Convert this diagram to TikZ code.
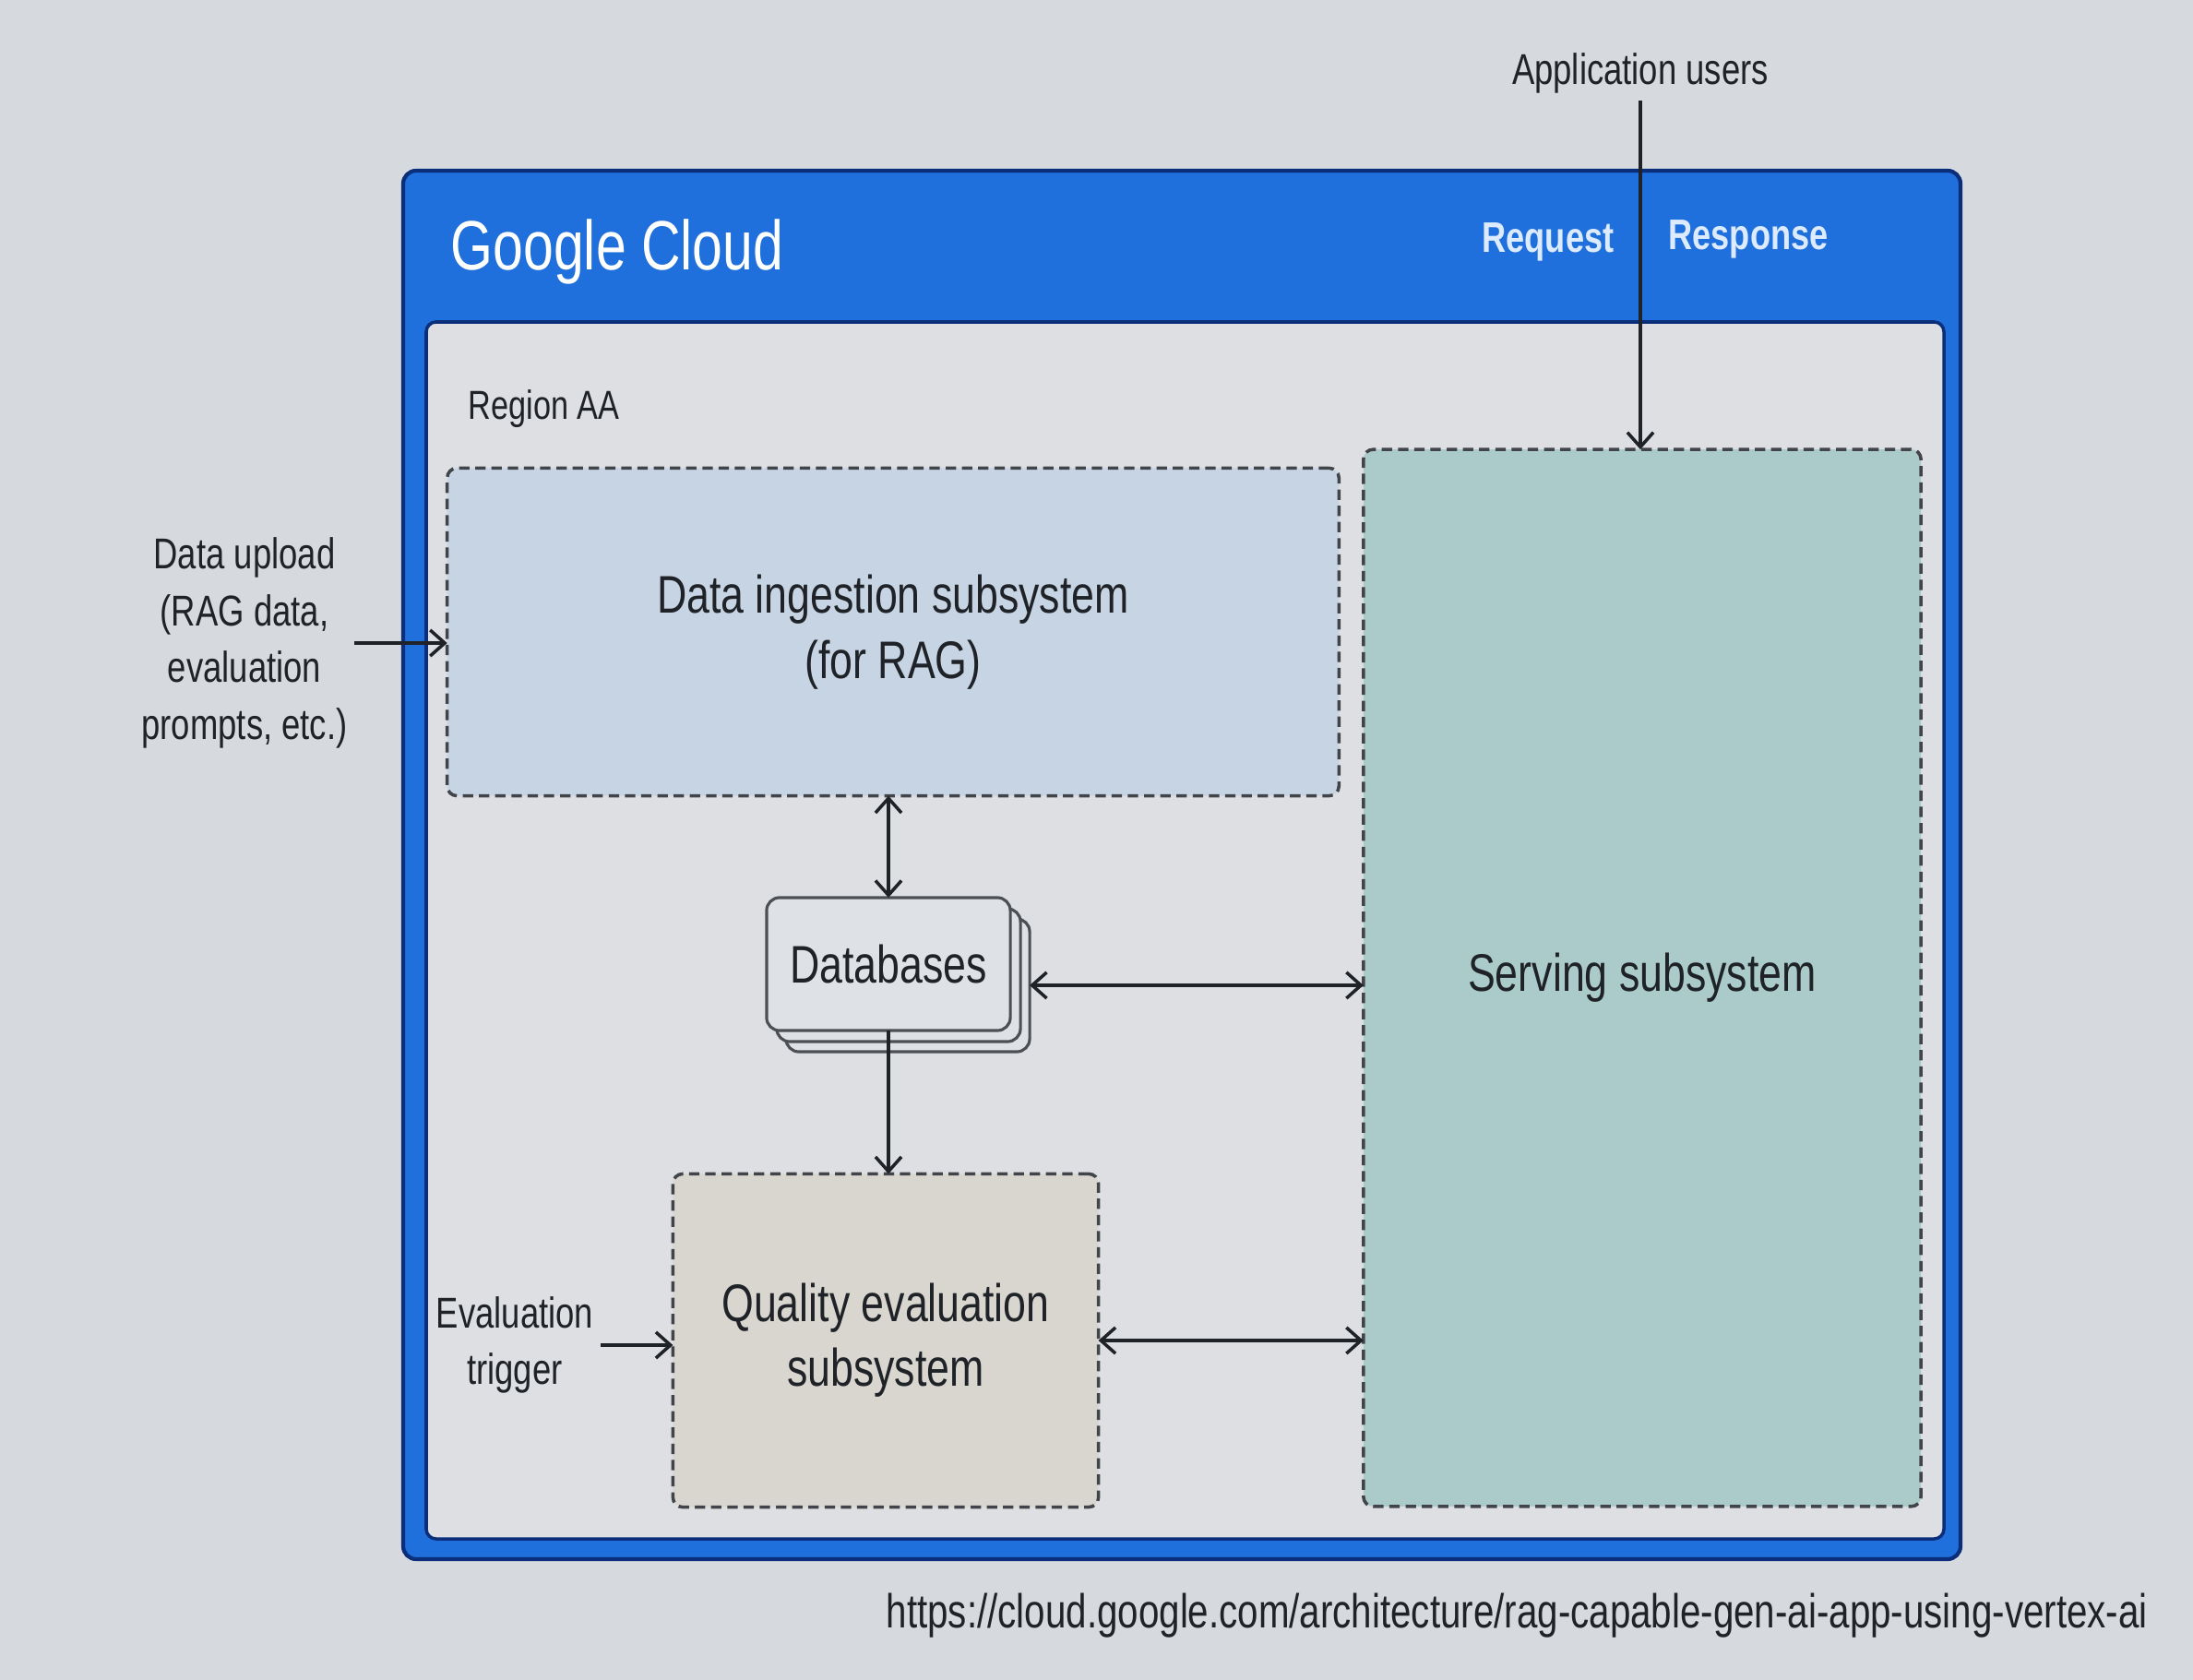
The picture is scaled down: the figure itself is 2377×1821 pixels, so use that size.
\documentclass[tikz,border=0pt]{standalone}
\usepackage{fontspec}
\setmainfont{Liberation Sans}[FakeStretch=0.78]
\usetikzlibrary{arrows.meta}
\definecolor{bg}{HTML}{D6D9DE}
\definecolor{gblue}{HTML}{1F6FDC}
\definecolor{navy}{HTML}{0B2E7A}
\definecolor{panel}{HTML}{DDDFE3}
\definecolor{ingc}{HTML}{C6D4E3}
\definecolor{servc}{HTML}{ABCBCA}
\definecolor{qualc}{HTML}{D8D6CF}
\definecolor{dbc}{HTML}{DEE1E6}
\definecolor{ink}{HTML}{1F2328}
\definecolor{hdrtxt}{HTML}{DCEBFF}
\begin{document}
\begin{tikzpicture}[x=0.01cm,y=-0.01cm,
  subbox/.style={draw=ink!85, line width=1pt, dash pattern=on 3.2pt off 1.8pt,
    rounded corners=3pt, inner sep=0pt, outer sep=0pt, align=center, text=ink,
    font=\fontsize{16.3}{20}\selectfont},
  dbbox/.style={draw=ink!80, line width=0.9pt, fill=dbc, rounded corners=4pt,
    minimum width=2.64cm, minimum height=1.44cm, inner sep=0pt, outer sep=0pt,
    text=ink, font=\fontsize{16.3}{20}\selectfont},
  lbl/.style={text=ink, inner sep=2pt, align=center, font=\fontsize{13.3}{17.5}\selectfont},
  hdr/.style={text=hdrtxt, inner sep=0pt, font=\bfseries\fontsize{13.2}{16}\selectfont},
  arr/.style={draw=ink, line width=1pt, -{Straight Barb[length=4.5pt,width=8pt]}},
  arrtwo/.style={draw=ink, line width=1pt, {Straight Barb[length=4.5pt,width=8pt]}-{Straight Barb[length=4.5pt,width=8pt]}}
]
% background / bounding box
\fill[bg] (0,0) rectangle (2377,1821);
\useasboundingbox (0,0) rectangle (2377,1821);
% Google Cloud frame
\draw[draw=navy, line width=1.2pt, fill=gblue, rounded corners=4pt] (437,185) rectangle (2125,1690);
\draw[draw=navy, line width=1pt, fill=panel, rounded corners=3pt] (462,349) rectangle (2107,1668);
\node[text=white, anchor=west, inner sep=0pt, font=\fontsize{21.5}{24}\selectfont] (gc) at (488,273) {Google Cloud};
\node[hdr] (req) at (1678,262) {Request};
\node[hdr] (resp) at (1895,259) {Response};
\node[lbl] (users) at (1778,79) {Application users};
\node[lbl, anchor=west, font=\fontsize{12.5}{15}\selectfont] (region) at (500,443) {Region AA};
% subsystems
\node[subbox, fill=ingc, minimum width=9.66cm, minimum height=3.55cm] (ing) at (968,685) {Data ingestion subsystem\\(for RAG)};
\node[subbox, fill=servc, minimum width=6.04cm, minimum height=11.45cm] (serv) at (1780,1060) {Serving subsystem};
\node[subbox, fill=qualc, minimum width=4.61cm, minimum height=3.61cm] (qual) at (960,1453) {Quality evaluation\\subsystem};
% databases stack
\node[dbbox] (db3) at (984,1068) {};
\node[dbbox] (db2) at (974,1057) {};
\node[dbbox] (db) at (963,1045) {Databases};
% outside labels
\node[lbl] (upload) at (265,697) {Data upload\\(RAG data,\\evaluation\\prompts, etc.)};
\node[lbl] (trig) at (558,1458) {Evaluation\\trigger};
\node[text=ink, anchor=west, inner sep=0pt, font=\fontsize{14.7}{17}\selectfont] (url) at (960,1751) {https://cloud.google.com/architecture/rag-capable-gen-ai-app-using-vertex-ai};
% connectors
\draw[arr] (users.south) -- (users.south |- serv.north);
\draw[arr] (upload.east) -- (upload.east -| ing.west);
\draw[arr] (trig.east) -- (trig.east -| qual.west);
\draw[arrtwo] (db.north) -- (db.north |- ing.south);
\draw[arr] (db.south) -- (db.south |- qual.north);
\draw[arrtwo] (db3.east) -- (db3.east -| serv.west);
\draw[arrtwo] (qual.east) -- (qual.east -| serv.west);
\end{tikzpicture}
\end{document}
